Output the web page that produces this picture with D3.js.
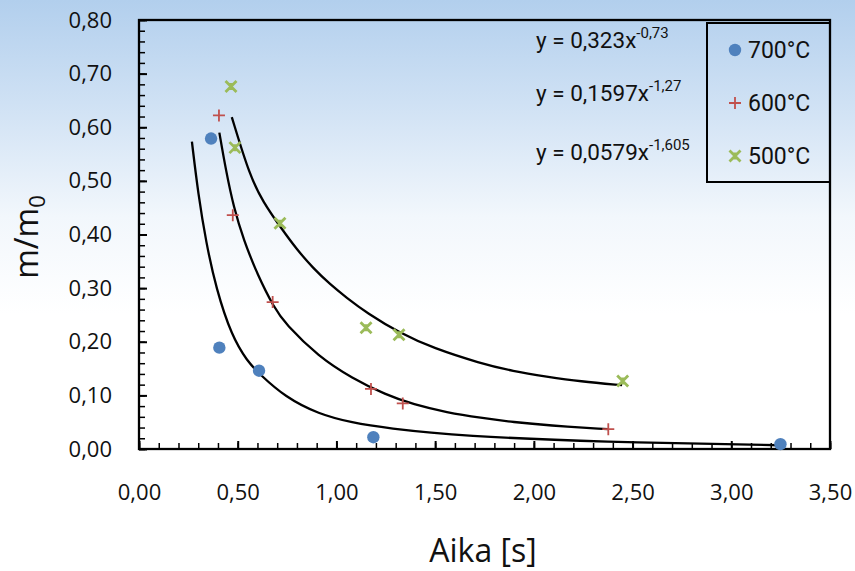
<!DOCTYPE html>
<head>
  <meta charset="utf-8">
  <title>m/m0 vs aika</title>
  <style>
    body { margin: 0; }
    text { font-family: "Open Sans", sans-serif; }
  </style>
</head>
<body>
  <div id="chart"></div>
  <script src="https://d3js.org/d3.v7.min.js"></script>
  <script>
    // tick labels
    var xTicks = [0, 0.5, 1, 1.5, 2, 2.5, 3, 3.5];
    var yTicks = [0, 0.1, 0.2, 0.3, 0.4, 0.5, 0.6, 0.7, 0.8];

    // measured points [aika, m/m0]
    var pts700 = [[0.365, 0.579], [0.407, 0.189], [0.608, 0.146], [1.187, 0.022], [3.249, 0.009]];
    var pts600 = [[0.405, 0.622], [0.475, 0.436], [0.677, 0.274], [1.175, 0.112], [1.336, 0.085], [2.377, 0.037]];
    var pts500 = [[0.466, 0.676], [0.486, 0.562], [0.714, 0.421], [1.150, 0.226], [1.317, 0.213], [2.450, 0.127]];

    // trend lines
    var fit700 = [[0.268, 0.573], [0.30, 0.475], [0.34, 0.385], [0.39, 0.300], [0.47, 0.210], [0.55, 0.163],
                  [0.61, 0.140], [0.74, 0.097], [0.91, 0.065], [1.08, 0.049], [1.25, 0.039], [1.64, 0.024],
                  [2.34, 0.013], [3.247, 0.007]];
    var fit600 = [[0.407, 0.590], [0.44, 0.520], [0.48, 0.450], [0.53, 0.390], [0.60, 0.325], [0.685, 0.263],
                  [0.74, 0.234], [0.91, 0.172], [1.08, 0.132], [1.25, 0.101], [1.39, 0.083], [1.56, 0.068],
                  [1.73, 0.058], [1.90, 0.050], [2.07, 0.044], [2.376, 0.037]];
    var fit500 = [[0.470, 0.619], [0.562, 0.508], [0.63, 0.460], [0.714, 0.415], [0.799, 0.372], [0.883, 0.337],
                  [0.968, 0.307], [1.052, 0.282], [1.153, 0.254], [1.322, 0.216], [1.491, 0.188], [1.727, 0.160],
                  [1.895, 0.145], [2.065, 0.135], [2.234, 0.126], [2.447, 0.119]];

    var equations = [["y = 0,323x", "-0,73"], ["y = 0,1597x", "-1,27"], ["y = 0,0579x", "-1,605"]];
    var legendNames = ["700°C", "600°C", "500°C"];
    var colors = ["#4f81bd", "#c0504d", "#9bbb59"];

    var width = 855, height = 571;
    var margin = {left: 139, top: 20, right: 25, bottom: 122};

    var svg = d3.select("#chart").append("svg")
      .attr("width", width)
      .attr("height", height);

    var grad = svg.append("defs").append("linearGradient")
      .attr("id", "bg").attr("x1", 0).attr("y1", 0).attr("x2", 0).attr("y2", 1);
    grad.append("stop").attr("offset", "0").attr("stop-color", "#b2cfed");
    grad.append("stop").attr("offset", "0.18").attr("stop-color", "#cfe1f4");
    grad.append("stop").attr("offset", "0.38").attr("stop-color", "#f2f7fc");
    grad.append("stop").attr("offset", "0.55").attr("stop-color", "#ffffff");
    grad.append("stop").attr("offset", "1").attr("stop-color", "#ffffff");

    svg.append("rect")
      .attr("width", width)
      .attr("height", height)
      .attr("fill", "url(#bg)");

    var x = d3.scaleLinear().domain([0, 3.5]).range([margin.left, width - margin.right]);
    var y = d3.scaleLinear().domain([0, 0.8]).range([height - margin.bottom, margin.top]);

    var fmt = d3.formatLocale({decimal: ",", thousands: " ", grouping: [3], currency: ["", ""]}).format(".2f");

    // minor ticks
    svg.append("g")
      .attr("transform", "translate(0," + y(0) + ")")
      .call(d3.axisBottom(x).tickValues(d3.range(0, 36).map(function(i) { return i / 10; })).tickSize(-6).tickFormat(""))
      .call(function(g) { g.select(".domain").remove(); g.selectAll("line").attr("stroke-width", 1.5); });
    svg.append("g")
      .attr("transform", "translate(" + x(0) + ",0)")
      .call(d3.axisLeft(y).tickValues(d3.range(0, 41).map(function(i) { return i / 50; })).tickSize(-6).tickFormat(""))
      .call(function(g) { g.select(".domain").remove(); g.selectAll("line").attr("stroke-width", 1.5); });

    // major ticks + labels
    var xAxis = svg.append("g")
      .attr("transform", "translate(0," + y(0) + ")")
      .call(d3.axisBottom(x).tickValues(xTicks).tickSize(-8).tickPadding(35).tickFormat(fmt));
    var yAxis = svg.append("g")
      .attr("transform", "translate(" + x(0) + ",0)")
      .call(d3.axisLeft(y).tickValues(yTicks).tickSize(-8).tickPadding(27).tickFormat(fmt));
    [xAxis, yAxis].forEach(function(g) {
      g.select(".domain").remove();
      g.selectAll("line").attr("stroke-width", 2);
      g.selectAll("text").attr("font-size", 22).attr("fill", "#111")
        .style("font-family", "'Open Sans', sans-serif");
    });

    // plot border
    svg.append("rect")
      .attr("x", x(0)).attr("y", y(0.8))
      .attr("width", x(3.5) - x(0)).attr("height", y(0) - y(0.8))
      .attr("fill", "none").attr("stroke", "#000").attr("stroke-width", 2.3);

    // trend lines
    var line = d3.line()
      .x(function(d) { return x(d[0]); })
      .y(function(d) { return y(d[1]); })
      .curve(d3.curveBasis);
    [fit700, fit600, fit500].forEach(function(f) {
      svg.append("path").datum(f)
        .attr("d", line)
        .attr("fill", "none").attr("stroke", "#000").attr("stroke-width", 2.3);
    });

    function marker(g, kind, cx, cy) {
      if (kind === 0) {
        g.append("circle").attr("cx", cx).attr("cy", cy).attr("r", 6.2).attr("fill", colors[0]);
      } else if (kind === 1) {
        g.append("path")
          .attr("d", "M" + (cx - 6) + "," + cy + "H" + (cx + 6) + "M" + cx + "," + (cy - 6) + "V" + (cy + 6))
          .attr("stroke", colors[1]).attr("stroke-width", 1.8).attr("fill", "none");
      } else {
        g.append("path")
          .attr("d", "M" + (cx - 5.5) + "," + (cy - 5.5) + "L" + (cx + 5.5) + "," + (cy + 5.5) +
                     "M" + (cx - 5.5) + "," + (cy + 5.5) + "L" + (cx + 5.5) + "," + (cy - 5.5) +
                     "M" + cx + "," + (cy - 3.5) + "V" + (cy + 3.5))
          .attr("stroke", colors[2]).attr("stroke-width", 2.8).attr("fill", "none");
      }
    }

    var pts = svg.append("g");
    [pts700, pts600, pts500].forEach(function(s, k) {
      s.forEach(function(d) { marker(pts, k, x(d[0]), y(d[1])); });
    });

    // equations
    var eqY = [48, 101, 160];
    equations.forEach(function(e, i) {
      var t = svg.append("text")
        .attr("x", 536).attr("y", eqY[i])
        .attr("font-size", 22.5).attr("fill", "#111")
        .style("font-family", "Roboto, sans-serif");
      t.append("tspan").text(e[0]);
      t.append("tspan").attr("dy", -10).attr("font-size", 15).text(e[1]);
    });

    // legend
    var lg = svg.append("g");
    lg.append("rect")
      .attr("x", 707).attr("y", 23).attr("width", 123).attr("height", 159)
      .attr("fill", "none").attr("stroke", "#000").attr("stroke-width", 2);
    var lgY = [50, 103, 156];
    legendNames.forEach(function(n, i) {
      marker(lg, i, 735, lgY[i]);
      lg.append("text")
        .attr("x", 748).attr("y", lgY[i] + 8)
        .attr("font-size", 23).attr("fill", "#111")
        .style("font-family", "Roboto, sans-serif")
        .text(n);
    });

    // axis titles
    svg.append("text")
      .attr("x", 483).attr("y", 562)
      .attr("text-anchor", "middle")
      .attr("font-size", 32).attr("fill", "#111")
      .text("Aika [s]");

    var yt = svg.append("text")
      .attr("transform", "translate(38,237) rotate(-90)")
      .attr("text-anchor", "middle")
      .attr("font-size", 32).attr("fill", "#111");
    yt.append("tspan").text("m/m");
    yt.append("tspan").attr("dy", 7).attr("font-size", 22).text("0");
  </script>
</body>
